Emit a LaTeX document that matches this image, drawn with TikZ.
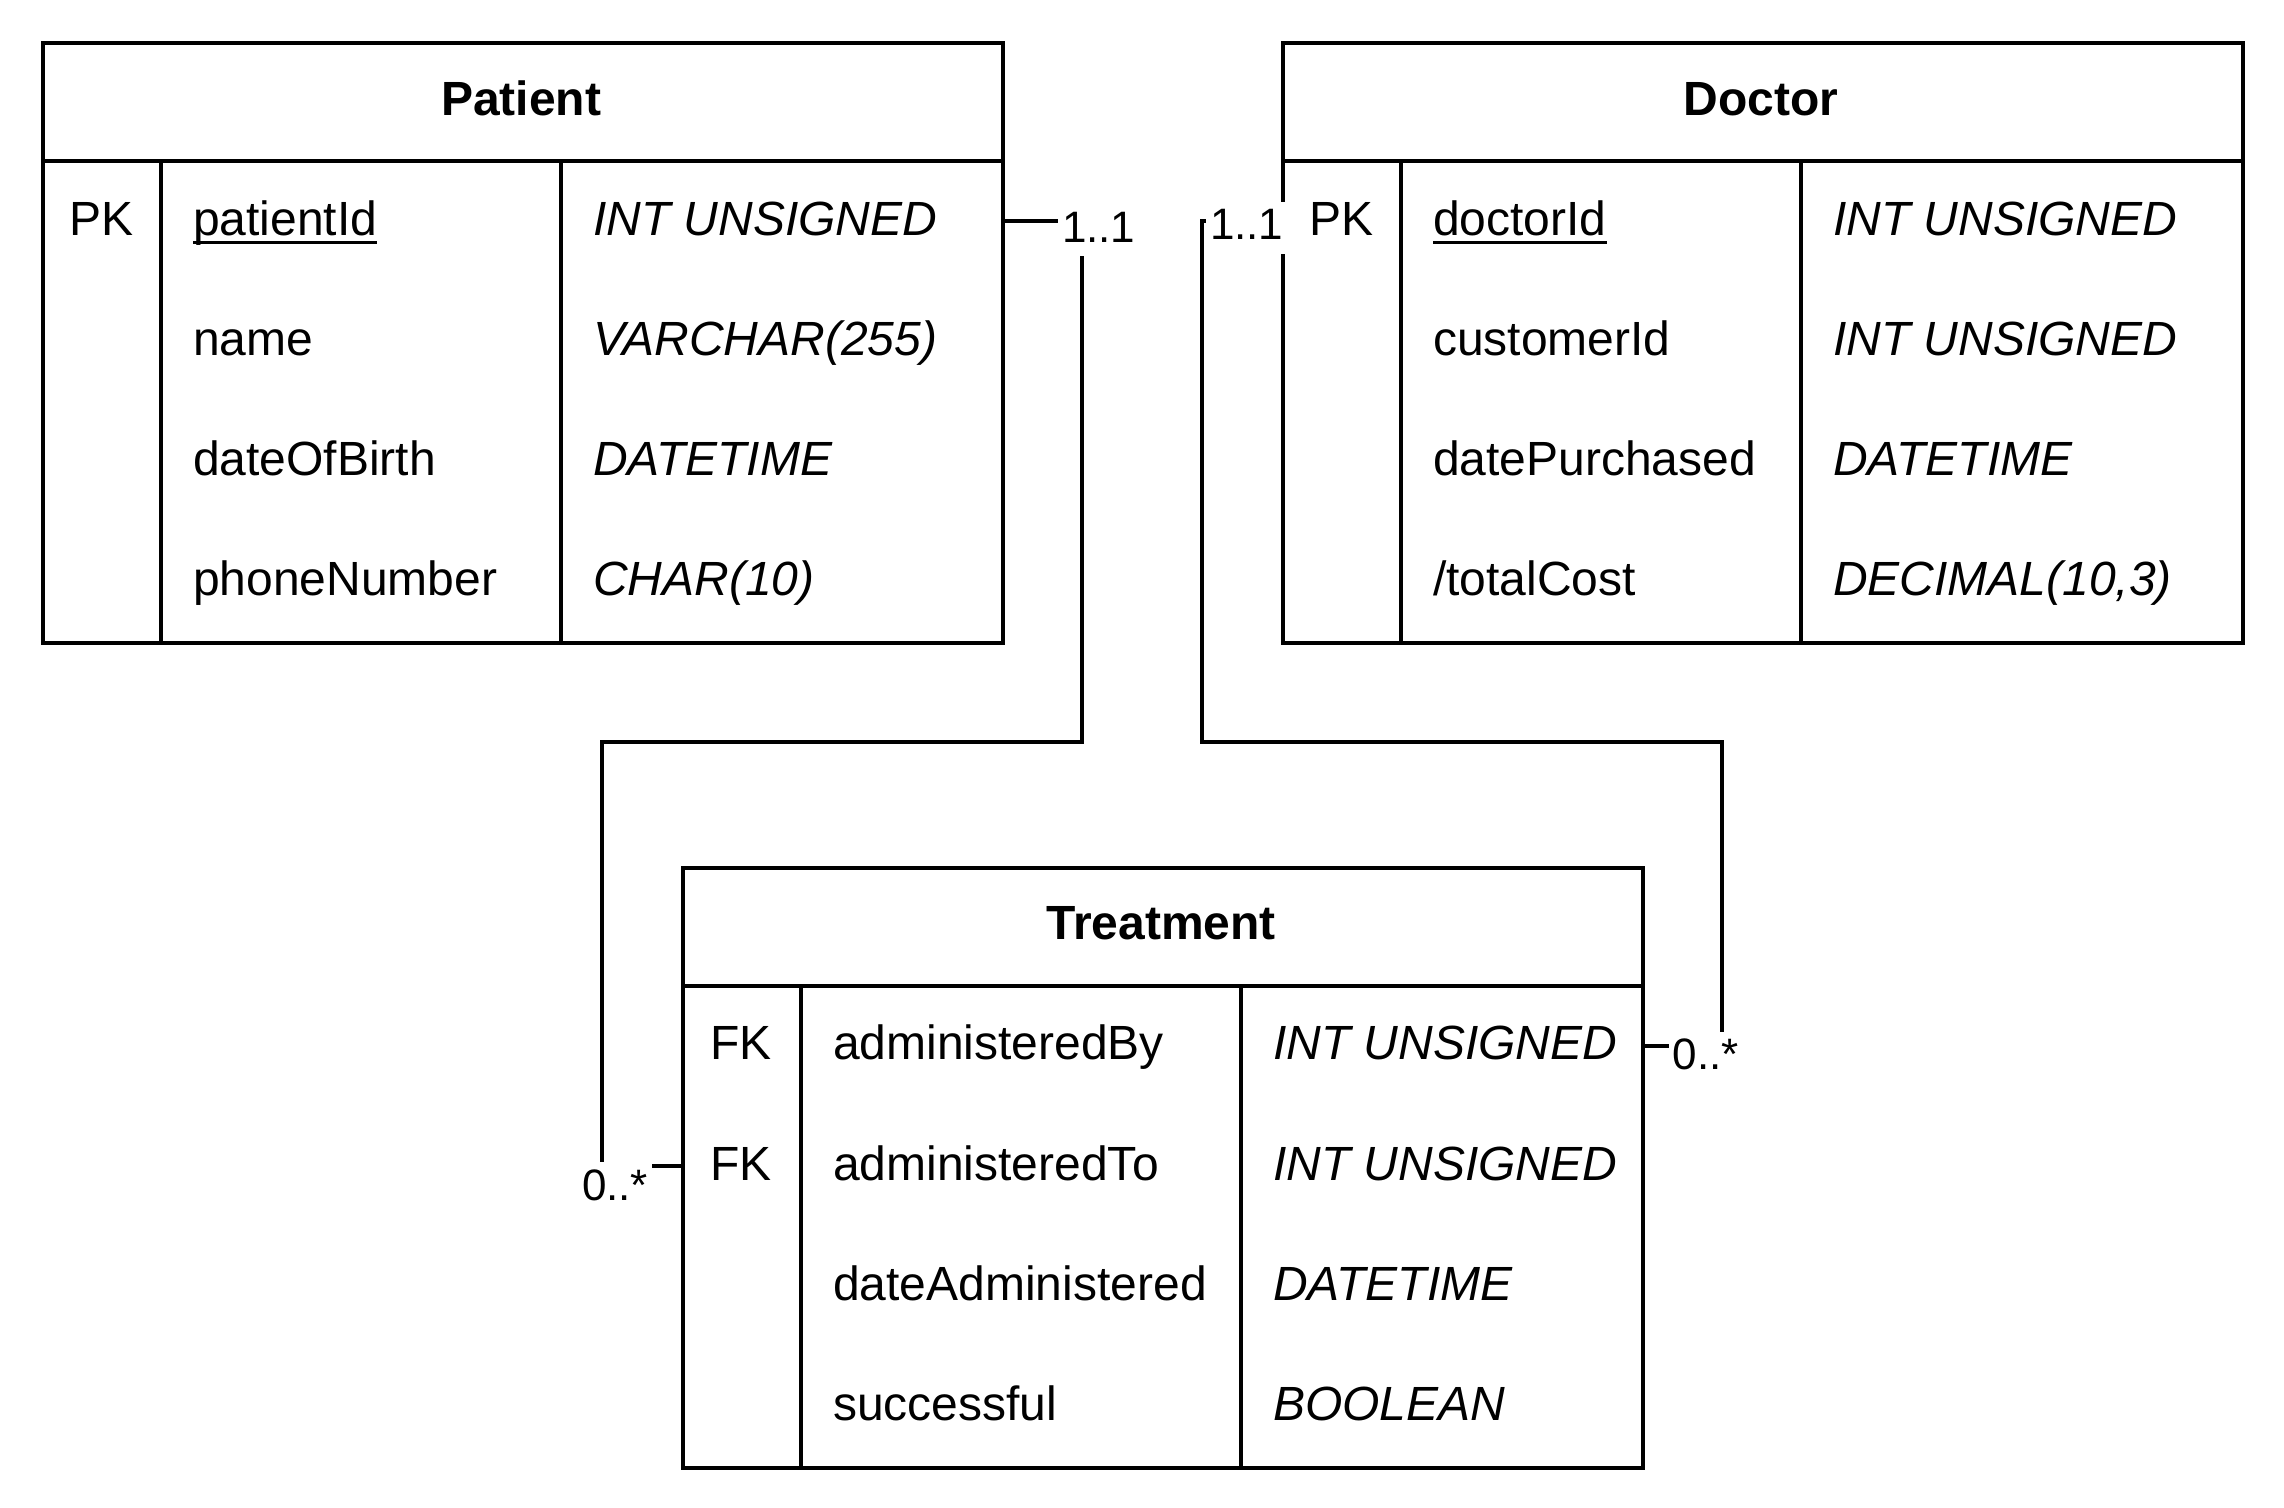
\documentclass[tikz,border=0pt]{standalone}
\usepackage{fontspec}
\setmainfont{Liberation Sans}

% underlined key name, line at a fixed depth
\newcommand{\pkname}[1]{\setbox0\hbox{#1}\rlap{\rule[-2.3pt]{\wd0}{0.9pt}}\box0}

\begin{document}
\begin{tikzpicture}[x=1pt, y=-1pt, line width=1pt,
    table/.style={draw, rectangle, minimum width=240pt, minimum height=150pt, anchor=north west, inner sep=0pt},
    title/.style={font=\fontsize{12}{14}\bfseries, text height=7pt, text depth=0pt, inner sep=0pt},
    keycell/.style={font=\fontsize{12}{14}\selectfont, text height=7pt, text depth=0pt, inner sep=0pt},
    field/.style={keycell, anchor=west},
    dtype/.style={field, font=\fontsize{12}{14}\itshape},
    mult/.style={font=\fontsize{11}{13}\selectfont, fill=white, anchor=base west, inner xsep=1pt, inner ysep=0pt, text height=9.5pt, text depth=3.5pt}]

\useasboundingbox (0,0) rectangle (571,377);

% Patient table
\node[table] (patient) at (10.3,10.3) {};
\node[title] (patient-title) at (130.3,25.3) {Patient};
\draw (10.3,40.3) -- (250.3,40.3) (40.3,40.3) -- (40.3,160.3) (140.3,40.3) -- (140.3,160.3);
\node[keycell] (patient-k1) at (25.3,55.3) {PK};
\foreach \name/\type [count=\i] in {\pkname{patientId}/INT UNSIGNED, name/VARCHAR(255), dateOfBirth/DATETIME, phoneNumber/CHAR(10)} {
    \node[field] (patient-f\i) at (47.8,25.3+30*\i) {\name};
    \node[dtype] (patient-t\i) at (147.8,25.3+30*\i) {\type};
}

% Doctor table
\node[table] (doctor) at (320.3,10.3) {};
\node[title] (doctor-title) at (440.3,25.3) {Doctor};
\draw (320.3,40.3) -- (560.3,40.3) (350.3,40.3) -- (350.3,160.3) (450.3,40.3) -- (450.3,160.3);
\node[keycell] (doctor-k1) at (335.3,55.3) {PK};
\foreach \name/\type [count=\i] in {\pkname{doctorId}/INT UNSIGNED, customerId/INT UNSIGNED, datePurchased/DATETIME, {/totalCost}/{DECIMAL(10,3)}} {
    \node[field] (doctor-f\i) at (357.8,25.3+30*\i) {\name};
    \node[dtype] (doctor-t\i) at (457.8,25.3+30*\i) {\type};
}

% Treatment table
\node[table] (treatment) at (170.3,216.5) {};
\node[title] (treatment-title) at (290.3,231.5) {Treatment};
\draw (170.3,246.5) -- (410.3,246.5) (200.3,246.5) -- (200.3,366.5) (310.3,246.5) -- (310.3,366.5);
\node[keycell] (treatment-k1) at (185.3,261.5) {FK};
\node[keycell] (treatment-k2) at (185.3,291.5) {FK};
\foreach \name/\type [count=\i] in {administeredBy/INT UNSIGNED, administeredTo/INT UNSIGNED, dateAdministered/DATETIME, successful/BOOLEAN} {
    \node[field] (treatment-f\i) at (207.8,231.5+30*\i) {\name};
    \node[dtype] (treatment-t\i) at (317.8,231.5+30*\i) {\type};
}

% Connections
\coordinate (pbend1) at (270.4,185.4);
\coordinate (pbend2) at (150.4,185.4);
\coordinate (dbend1) at (300.4,185.4);
\coordinate (dbend2) at (430.4,185.4);
\draw (patient.east |- patient-t1) -| (pbend1) -- (pbend2) |- (treatment.west |- treatment-f2);
\draw (doctor.west |- doctor-f1) -| (dbend1) -- (dbend2) |- (treatment.east |- treatment-t1);

% Multiplicities
\node[mult] (patient-one) at (264,60.6) {1..1};
\node[mult] (doctor-one) at (301,59.9) {1..1};
\node[mult] (patient-many) at (144,300) {0..*};
\node[mult] (doctor-many) at (416.7,267.5) {0..*};

\end{tikzpicture}
\end{document}
